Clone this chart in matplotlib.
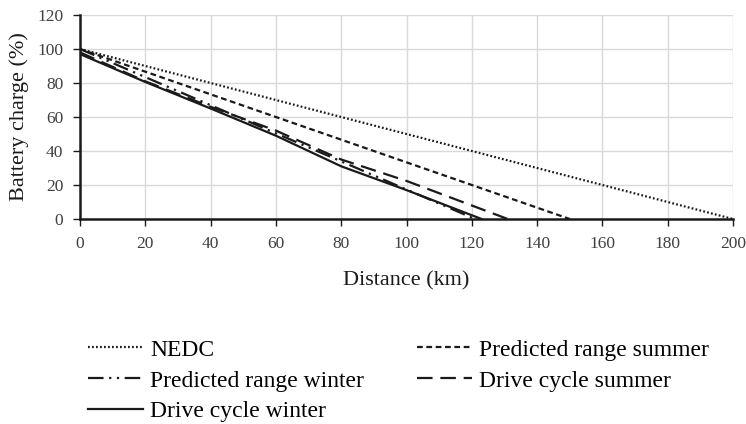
import matplotlib
matplotlib.use("Agg")
import matplotlib.pyplot as plt

plt.rcParams['font.family'] = ['Liberation Serif', 'DejaVu Serif']

nedc_x = [0, 200]
nedc_y = [100, 0]
pred_summer_x = [0, 150]
pred_summer_y = [100, 0]
pred_winter_x = [0, 121]
pred_winter_y = [100, 0]
drive_summer_x = [0, 20, 40, 60, 80, 100, 131]
drive_summer_y = [98, 81, 66, 52, 35, 22.4, 0]
drive_winter_x = [0, 20, 40, 60, 80, 100, 123]
drive_winter_y = [97, 80.6, 65, 49, 31, 17, 0]

xticks = list(range(0, 201, 20))
yticks = list(range(0, 121, 20))

fig = plt.figure(figsize=(7.46, 4.24), dpi=100)
ax = fig.add_axes([80/746, 1-219/424, 653/746, 204/424])

lw = 1.6
c = '#1a1a1a'
ax.plot(nedc_x, nedc_y, color=c, lw=lw, dashes=(0.8, 1.0), label='NEDC')
ax.plot(pred_summer_x, pred_summer_y, color=c, lw=lw, dashes=(2.6, 1.6), label='Predicted range summer')
ax.plot(pred_winter_x, pred_winter_y, color=c, lw=lw, dashes=(7, 2.5, 1, 2.5, 1, 2.5), label='Predicted range winter')
ax.plot(drive_summer_x, drive_summer_y, color=c, lw=lw, dashes=(7, 3.5), label='Drive cycle summer')
ax.plot(drive_winter_x, drive_winter_y, color=c, lw=lw, label='Drive cycle winter')

ax.set_xlim(0, 200)
ax.set_ylim(0, 120)
ax.set_xticks(xticks)
ax.set_yticks(yticks)
ax.grid(True, color='#d9d9d9', lw=1)
ax.set_axisbelow(True)
for s in ['top', 'right']:
    ax.spines[s].set_visible(False)
for s in ['left', 'bottom']:
    ax.spines[s].set_color(c)
    ax.spines[s].set_linewidth(1.8)
ax.tick_params(axis='both', length=5, width=1, color=c, labelsize=12.5, labelcolor='#404040', direction='out')
ax.tick_params(axis='x', pad=7)
ax.tick_params(axis='y', pad=7)
ax.set_xlabel('Distance (km)', fontsize=16, color=c, labelpad=14)
ax.set_ylabel('Battery charge (%)', fontsize=16, color=c, labelpad=6)

handles, labels = ax.get_legend_handles_labels()
col1 = [0, 2, 4]
col2 = [1, 3]
common = dict(loc='upper left', frameon=False, fontsize=17, handlelength=2.35,
              handletextpad=0.28, labelspacing=0.4, borderpad=0, borderaxespad=0)
fig.legend([handles[i] for i in col1], [labels[i] for i in col1],
           bbox_to_anchor=(88/746, 1-339/424), **common)
fig.legend([handles[i] for i in col2], [labels[i] for i in col2],
           bbox_to_anchor=(417/746, 1-339/424), **common)

fig.savefig('out.png', dpi=100)
